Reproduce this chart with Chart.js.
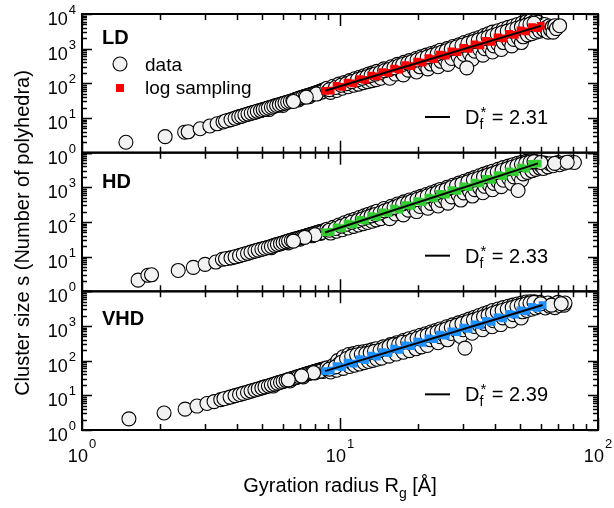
<!DOCTYPE html>
<html>
<head>
<meta charset="utf-8">
<script src="https://cdn.jsdelivr.net/npm/chart.js@4.4.1/dist/chart.umd.min.js"></script>
<style>
  body { margin: 0; background: #fff; }
  #wrap { width: 614px; height: 508px; }
</style>
</head>
<body>
<div id="wrap"><canvas id="fractal" width="614" height="508"></canvas></div>
<script>
// panel names and fitted fractal dimensions
const panelNames = ['LD', 'HD', 'VHD'];
const dfLabels = ['2.31', '2.33', '2.39'];
const samplingColors = ['#ff0000', '#33cc33', '#1e90ff'];

// tick label exponents
const xTickExps = [0, 1, 2];
const yTickExpsTop = [0, 1, 2, 3, 4];
const yTickExpsOther = [0, 1, 2, 3];

// [Rg, s]
const ldData = [
  [1.48,2.0],[2.10,2.9],[2.50,3.9],[2.58,4.0],[2.87,4.9],[3.13,5.9],[3.34,6.8],[3.52,7.7],[3.70,8.6],[3.85,9.5],
  [3.98,10.3],[4.10,11.0],[4.22,11.8],[4.35,12.6],[4.47,13.4],[4.60,14.3],[4.72,15.0],[4.85,16.0],[4.98,17.0],[5.10,17.8],
  [5.22,18.9],[5.35,20.0],[5.48,21.0],[5.60,22.5],[5.75,23.6],[5.90,25.0],[6.05,26.5],[6.20,28.0],[6.35,29.5],[6.50,31.0],
  [6.65,33.0],[6.80,35.0],[6.95,37.0],[7.10,39.0],[7.25,41.0],[7.40,43.0],[7.55,45.0],[7.70,47.0],[7.85,49.0],[8.00,52.0],
  [8.15,54.0],[8.30,57.0],[8.45,60.0],[8.60,63.0],[5.30,17.5],[6.00,23.0],[6.90,33.0],[7.60,41.0],[8.20,50.0],
  [3.6,8.2],[3.78,9.0],[3.92,9.8],[4.05,10.8],[4.16,11.3],[4.28,12.2],[4.4,13.0],[4.53,13.8],[4.66,14.6],[4.78,15.6],
  [4.92,16.4],[5.04,17.4],[5.16,18.2],[5.28,19.5],[5.42,20.4],[5.54,21.8],[5.68,23.0],[5.82,24.2],[5.97,25.6],[6.12,27.2],
  [6.27,28.6],[6.42,30.2],[6.57,32.0],[6.72,34.0],[6.87,36.0],[7.02,38.0],[7.17,40.0],[7.32,42.0],[7.47,44.0],[7.62,46.0],
  [7.77,48.0],[7.92,50.5],[8.07,53.0],[8.22,55.5],[8.37,58.5],[8.52,61.5],[8.68,65],[8.8,68],[8.5,56],[8.1,49],[7.4,40],[6.6,30],
  [8.9,72],[9.0,60],[9.2,55],[9.4,82],[9.55,68],[9.7,62],[9.9,95],[10.05,82],[10.2,72],
  [10.4,106],[10.55,90],[10.75,80],[10.9,120],[11.05,102],[11.3,88],[11.4,135],[11.6,112],[11.8,95],
  [11.9,150],[12.1,124],[12.3,105],[12.4,166],[12.6,136],[12.8,112],[12.9,185],[13.1,148],[13.3,120],
  [13.4,200],[13.6,160],[13.8,128],[13.9,222],[14.1,175],[14.4,140],
  [14.8,262],[15.0,204],[15.3,160],[15.6,140],[15.8,300],[16.1,235],[16.4,185],
  [16.7,352],[17.0,270],[17.3,210],[17.6,175],[17.7,402],[18.0,305],[18.4,240],
  [18.6,452],[19.0,347],[19.4,262],[19.8,212],[19.7,520],[20.0,390],[20.4,300],
  [20.6,580],[21.0,434],[21.4,330],[21.9,262],[21.6,650],[22.0,480],[22.5,360],
  [22.6,722],[23.0,532],[23.5,400],[24.0,302],[23.6,800],[24.1,590],[24.6,432],
  [24.5,900],[25.0,641],[25.6,470],[26.2,352],[26.0,1000],[26.5,730],[27.1,520],
  [27.4,1150],[28.0,825],[28.7,600],[29.4,420],[28.9,1300],[29.5,930],[30.2,680],
  [30.3,1500],[31.0,1040],[31.8,720],[32.6,500],[31.0,280],[31.8,1700],[32.5,1150],[33.3,850],
  [33.2,1900],[34.0,1275],[34.8,950],[35.8,650],[34.7,2100],[35.5,1400],[36.4,1000],
  [36.1,2400],[37.0,1540],[37.9,1100],[39.0,800],[37.6,2700],[38.5,1700],[39.5,1200],
  [39.0,3000],[40.0,1840],[41.0,1350],[42.2,950],[41.0,3300],[42.0,2050],[43.0,1500],
  [42.9,3700],[44.0,2270],[45.1,1700],[46.3,1200],[44.9,4100],[46.0,2500],[47.2,1850],
  [46.8,4500],[48.0,2760],[49.2,2000],[50.5,1500],[48.8,5000],[50.0,3000],[51.3,2200],
  [50.7,5500],[52.0,3300],[53.3,2500],[52.7,6000],[54.0,3600],[55.4,2700],
  [54.6,6300],[56.0,3900],[57.4,3000],[56.6,6000],[58.0,4200],[59.5,3200],
  [58.5,5800],[60.0,4500],[61.5,3500],[62.0,5000],[63.0,4000],[64.0,3000],
  [64.5,4500],[65.5,3500],[66.5,4300],[67.0,3000],[68.0,4600],[69.0,3800],[71.0,4600],
  [9.1,66],[9.6,76],[10.1,88],[10.6,98],[11.1,112],[11.7,128],[12.2,140],[12.7,155],[13.2,170],[13.7,185],
  [14.3,205],[14.9,232],[15.5,250],[16.2,285],[16.9,320],[17.5,350],[18.3,385],[19.0,420],[19.9,470],[20.8,520],
  [21.8,580],[22.8,650],[23.8,710],[24.8,790],[25.8,870],[27.0,990],[28.3,1120],[29.7,1250],[31.3,1420],[32.9,1600],
  [34.4,1770],[36.0,1950],[37.5,2150],[39.0,2350],[40.7,2600],[42.5,2900],[44.5,3200],[46.5,3500],[48.5,3900],[50.5,4300],
  [52.5,4700],[54.5,5100],[56.5,5400]
];
const ldSampling = [
  [8.75,61],[9.2,62],[9.7,84],[10.2,79],[10.7,105],[11.3,99],[11.9,133],[12.5,125],[13.2,168],[13.9,158],
  [14.6,211],[15.4,199],[16.2,266],[17.0,248],[17.9,333],[18.9,315],[19.9,422],[20.9,395],[22.0,529],[23.2,499],
  [24.4,668],[25.7,627],[27.0,837],[28.5,790],[30.0,1060],[31.5,989],[33.2,1331],[35.0,1252],[36.8,1675],[38.7,1568],
  [40.8,2111],[42.9,1975],[45.2,2655],[47.6,2493],[50.1,3345],[52.7,3132],[55.5,4204],[58.4,3943],[60.0,4550]
];
const ldFit = [[8.75,61],[60.0,4550]];

const hdData = [
  [1.65,2.1],[1.80,2.9],[1.86,3.0],[2.36,4.0],[2.70,4.9],[3.00,6.0],[3.30,7.0],[3.50,8.4],[3.70,9.0],[3.85,9.5],
  [4.00,10.3],[4.15,11.2],[4.30,12.0],[4.45,13.0],[4.60,14.0],[4.75,15.0],[4.90,16.0],[5.05,17.0],[5.20,18.0],[5.35,19.0],
  [5.50,20.5],[5.65,22.0],[5.80,23.0],[5.95,24.5],[6.10,26.0],[6.25,27.5],[6.40,29.0],[6.55,30.5],[6.70,32.0],[6.85,33.5],
  [7.00,35.0],[7.15,37.0],[7.30,38.5],[7.45,40.0],[7.60,42.0],[7.75,44.0],[7.90,46.0],[8.05,48.0],[8.20,50.0],[8.35,52.0],
  [8.50,54.0],[5.40,18.0],[6.30,25.0],[7.00,32.0],[7.80,40.0],[8.40,47.0],
  [3.6,8.7],[3.78,9.2],[3.92,9.9],[4.08,10.7],[4.22,11.6],[4.38,12.5],[4.52,13.5],[4.68,14.5],[4.82,15.5],[4.98,16.5],
  [5.12,17.5],[5.28,18.5],[5.42,19.7],[5.58,21.2],[5.72,22.5],[5.88,23.7],[6.02,25.2],[6.18,26.7],[6.32,28.2],[6.48,29.7],
  [6.62,31.2],[6.78,32.7],[6.92,34.2],[7.08,36.0],[7.22,37.7],[7.38,39.2],[7.52,41.0],[7.68,43.0],[7.82,45.0],[7.98,47.0],
  [8.12,49.0],[8.28,51.0],[8.42,53.0],[8.6,55],[8.75,57],[8.5,50],[8.0,43],[7.3,36],[6.6,28],
  [8.9,62],[9.0,54],[9.2,48],[9.4,70],[9.55,60],[9.7,54],[9.9,82],[10.05,69],[10.2,60],
  [10.4,95],[10.55,78],[10.75,67],[10.9,108],[11.05,87],[11.3,75],[11.4,120],[11.6,97],[11.8,82],
  [11.9,135],[12.1,107],[12.3,90],[12.4,150],[12.6,118],[12.8,97],[12.9,168],[13.1,130],[13.3,105],
  [13.4,185],[13.6,142],[13.8,115],[13.9,205],[14.1,155],[14.4,125],
  [14.8,245],[15.0,183],[15.3,145],[15.6,125],[15.8,285],[16.1,215],[16.4,170],
  [16.7,330],[17.0,248],[17.3,195],[17.6,160],[17.7,380],[18.0,285],[18.4,220],
  [18.6,430],[19.0,324],[19.4,245],[19.8,200],[19.7,490],[20.0,365],[20.4,280],
  [20.6,550],[21.0,412],[21.4,310],[21.9,250],[21.6,620],[22.0,460],[22.5,345],
  [22.6,700],[23.0,513],[23.5,380],[24.0,290],[23.6,780],[24.1,570],[24.6,420],
  [24.5,870],[25.0,628],[25.6,460],[26.2,350],[26.0,1000],[26.5,720],[27.1,530],
  [27.4,1150],[28.0,825],[28.7,610],[29.4,430],[28.9,1320],[29.5,940],[30.2,690],
  [30.3,1500],[31.0,1055],[31.8,780],[32.6,560],[31.8,1700],[32.5,1180],[33.3,860],
  [33.2,1900],[34.0,1315],[34.8,960],[35.8,700],[34.7,2150],[35.5,1460],[36.4,1070],
  [36.1,2400],[37.0,1615],[37.9,1180],[39.0,850],[37.6,2650],[38.5,1780],[39.5,1300],
  [39.0,2900],[40.0,1950],[41.0,1450],[42.2,1050],[41.0,3300],[42.0,2200],[43.0,1600],
  [42.9,3700],[44.0,2450],[45.1,1800],[46.3,1300],[44.9,4100],[46.0,2750],[47.2,2000],
  [46.8,4500],[48.0,3020],[49.2,2200],[50.5,1600],[49.0,810],[48.8,4900],[50.0,3300],[51.3,2450],
  [50.7,5300],[52.0,3665],[53.3,2700],[52.7,5600],[54.0,4000],[55.4,3000],
  [54.6,5800],[56.0,4380],[57.4,3300],[56.6,5600],[58.0,4700],[59.5,3600],
  [58.5,5400],[60.0,4300],[61.5,3500],[62.0,5000],[64.0,3900],[65.0,4800],[67.0,4200],
  [70.0,5200],[71.0,4500],[74.0,5000],[78.0,5400],[81.0,5200],
  [9.1,58],[9.6,65],[10.1,76],[10.6,86],[11.1,98],[11.7,110],[12.2,122],[12.7,135],[13.2,150],[13.7,165],
  [14.3,182],[14.9,210],[15.5,232],[16.2,265],[16.9,300],[17.5,330],[18.3,360],[19.0,400],[19.9,445],[20.8,495],
  [21.8,560],[22.8,630],[23.8,700],[24.8,780],[25.8,860],[27.0,990],[28.3,1120],[29.7,1260],[31.3,1440],[32.9,1620],
  [34.4,1800],[36.0,2000],[37.5,2250],[39.0,2450],[40.7,2750],[42.5,3050],[44.5,3400],[46.5,3800],[48.5,4200],[50.5,4600],
  [52.5,5000],[54.5,5300],[56.5,5500],[60.0,5200],[68.0,4900],[76.0,5300]
];
const hdSampling = [
  [8.75,50],[9.2,51.5],[9.7,70],[10.2,66],[10.7,89],[11.3,86],[11.9,115],[12.5,109],[13.2,148],[13.9,141],
  [14.6,189],[15.4,179],[16.2,243],[17.0,228],[17.9,309],[18.9,294],[19.9,398],[20.9,375],[22.0,507],[23.2,482],
  [24.4,651],[25.7,617],[27.0,832],[28.5,792],[30.0,1071],[31.5,1008],[33.2,1368],[35.0,1300],[36.8,1753],[38.7,1656],
  [40.8,2248],[42.9,2121],[45.2,2877],[47.6,2726],[50.1,3687],[52.7,3483],[55.5,4719],[58.4,4851]
];
const hdFit = [[8.75,50],[58.5,4900]];

const vhdData = [
  [1.52,2.1],[2.08,3.1],[2.51,4.0],[2.79,4.9],[3.05,5.8],[3.25,6.6],[3.45,7.5],[3.65,8.4],[3.85,9.4],[4.00,10.2],
  [4.15,11.0],[4.30,11.9],[4.45,12.8],[4.60,13.8],[4.75,14.8],[4.90,15.8],[5.05,17.0],[5.20,18.0],[5.35,19.2],[5.50,20.5],
  [5.65,21.8],[5.80,23.2],[5.95,24.6],[6.10,26.0],[6.25,27.5],[6.40,29.0],[6.55,30.6],[6.70,32.2],[6.85,34.0],[7.00,35.8],
  [7.15,37.6],[7.30,39.5],[7.45,41.5],[7.60,43.5],[7.75,45.5],[7.90,47.5],[8.05,49.5],[8.20,51.5],[8.35,53.5],[8.50,55.5],
  [5.50,18.5],[6.40,26.0],[7.20,34.0],[8.00,44.0],[8.60,49.0],
  [3.55,8.0],[3.75,8.9],[3.92,9.8],[4.08,10.6],[4.22,11.4],[4.38,12.3],[4.52,13.3],[4.68,14.3],[4.82,15.3],[4.98,16.4],
  [5.12,17.5],[5.28,18.6],[5.42,19.8],[5.58,21.1],[5.72,22.5],[5.88,23.9],[6.02,25.3],[6.18,26.7],[6.32,28.2],[6.48,29.8],
  [6.62,31.4],[6.78,33.1],[6.92,34.9],[7.08,36.7],[7.22,38.5],[7.38,40.5],[7.52,42.5],[7.68,44.5],[7.82,46.5],[7.98,48.5],
  [8.12,50.5],[8.28,52.5],[8.42,54.5],[8.6,57],[8.75,59],[8.4,50],[7.9,45],[7.1,36],[6.3,28],
  [8.9,62],[9.0,53],[9.2,47],[9.4,72],[9.55,61],[9.7,53],
  [9.8,100],[9.95,82],[10.1,68],[10.3,60],[10.3,130],[10.5,100],[10.7,78],[10.9,68],
  [10.8,150],[11.0,115],[11.2,84],[11.4,74],[11.3,160],[11.5,125],[11.7,93],[11.9,80],
  [11.8,175],[12.0,135],[12.2,102],[12.4,88],[12.3,180],[12.5,140],[12.7,112],[12.9,95],
  [12.8,190],[13.0,150],[13.2,122],[13.4,102],[13.3,205],[13.5,160],[13.7,133],[13.9,110],
  [13.8,220],[14.0,175],[14.2,145],[14.5,118],[14.7,250],[15.0,200],[15.2,169],[15.5,135],
  [15.7,290],[16.0,230],[16.2,196],[16.5,155],[16.6,330],[17.0,270],[17.2,224],[17.6,175],
  [17.6,380],[18.0,310],[18.2,255],[18.6,195],[18.5,430],[19.0,350],[19.2,288],[19.7,220],
  [19.5,480],[20.0,390],[20.2,322],[20.7,250],[20.5,540],[21.0,440],[21.2,361],[21.8,275],
  [21.5,600],[22.0,490],[22.4,400],[22.5,670],[23.0,544],[23.4,444],[24.0,330],
  [23.5,740],[24.0,600],[24.5,490],[24.4,820],[25.0,660],[25.4,537],[26.1,400],
  [25.9,950],[26.5,760],[27.0,610],[27.3,1080],[28.0,870],[28.5,693],[29.3,500],
  [28.8,1230],[29.5,980],[30.0,780],[30.5,230],[30.3,1400],[31.0,1100],[31.6,872],[32.5,620],
  [31.7,1580],[32.5,1220],[33.2,970],[33.2,1780],[34.0,1360],[34.6,1074],[35.7,780],
  [34.6,2000],[35.5,1500],[36.2,1180],[36.1,2250],[37.0,1650],[37.7,1300],[38.9,950],
  [37.6,2500],[38.5,1800],[39.3,1420],[39.0,2800],[40.0,2000],[40.8,1552],[42.0,1100],
  [41.0,3100],[42.0,2250],[42.8,1720],[42.9,3400],[44.0,2500],[44.9,1924],[46.2,1400],
  [44.9,3700],[46.0,2750],[47.0,2130],[46.8,4000],[48.0,3000],[49.0,2342],[50.4,1700],
  [48.8,4300],[50.0,3300],[51.0,2570],[50.7,4600],[52.0,3600],[53.0,2809],
  [52.7,4900],[54.0,3800],[55.2,3050],[54.6,5000],[56.0,4100],[57.2,3318],
  [56.6,5000],[58.0,4300],[59.3,3600],[59.5,4800],[61.0,4030],[62.5,3300],
  [64.0,4600],[65.0,3700],[67.0,4200],[68.0,3400],[70.0,4800],[71.0,3900],[74.0,4000],[74.5,4600],
  [9.1,57],[9.6,66],[10.1,90],[10.6,115],[11.1,135],[11.6,145],[12.1,155],[12.6,160],[13.1,170],[13.6,185],
  [14.3,200],[14.9,225],[15.5,255],[16.2,290],[16.9,300],[17.5,340],[18.3,345],[19.0,390],[19.9,435],[20.8,490],
  [21.8,545],[22.8,605],[23.8,670],[24.8,740],[25.8,820],[27.0,920],[28.3,1040],[29.7,1170],[31.3,1320],[32.9,1480],
  [34.4,1650],[36.0,1850],[37.5,2050],[39.0,2300],[40.7,2550],[42.5,2800],[44.5,3100],[46.5,3400],[48.5,3700],[50.5,4000],
  [52.5,4300],[54.5,4600],[56.5,4800],[60.0,4400],[66.0,4000],[72.0,4400]
];
const vhdSampling = [
  [8.75,50],[9.2,51.5],[9.7,69],[10.2,65],[10.7,87],[11.3,82],[11.9,110],[12.5,103],[13.2,140],[13.9,131],
  [14.6,175],[15.4,165],[16.2,221],[17.0,206],[17.9,277],[18.9,262],[19.9,352],[20.9,329],[22.0,442],[23.2,417],
  [24.4,559],[25.7,525],[27.0,702],[28.5,663],[30.0,891],[31.5,832],[33.2,1120],[35.0,1055],[36.8,1414],[38.7,1325],
  [40.8,1785],[42.9,1672],[45.2,2250],[47.6,2115],[50.1,2838],[52.7,2662],[55.5,3577],[58.4,3356],[61.0,4030]
];
const vhdFit = [[8.75,50],[61.0,4030]];

const FONT = '"Liberation Sans", Arial, Helvetica, sans-serif';
const toPts = arr => arr.map(([x, y]) => ({ x: x, y: y }));

const panels = [
  { id: 'yLD', data: ldData, sampling: ldSampling, fit: ldFit },
  { id: 'yHD', data: hdData, sampling: hdSampling, fit: hdFit },
  { id: 'yVHD', data: vhdData, sampling: vhdSampling, fit: vhdFit }
];

const datasets = [];
panels.forEach((p, i) => {
  datasets.push({
    label: 'fit ' + panelNames[i], data: toPts(p.fit), yAxisID: p.id, order: 0,
    showLine: true, borderColor: '#000', borderWidth: 2, pointRadius: 0
  });
  datasets.push({
    label: 'log sampling ' + panelNames[i], data: toPts(p.sampling), yAxisID: p.id, order: 1,
    pointStyle: 'rect', pointRadius: 5.5, backgroundColor: samplingColors[i], borderWidth: 0
  });
  datasets.push({
    label: 'data ' + panelNames[i], data: toPts(p.data), yAxisID: p.id, order: 2,
    pointRadius: 7, backgroundColor: '#f2f2f2', borderColor: '#000', borderWidth: 1.1
  });
});

function yScaleOpts() {
  return {
    type: 'logarithmic', min: 1, max: 10000, position: 'left',
    stack: 'panels', stackWeight: 1,
    ticks: { display: false }, grid: { display: false }, border: { display: false },
    afterFit: s => { s.width = 82; }
  };
}

function powLabel(ctx, exp, x, y, align, raise) {
  ctx.font = '18px ' + FONT;
  const w10 = ctx.measureText('10').width;
  ctx.font = '13px ' + FONT;
  const we = ctx.measureText(String(exp)).width;
  const total = w10 + 1 + we;
  const x0 = align === 'right' ? x - total : x - total / 2;
  ctx.font = '18px ' + FONT;
  ctx.fillText('10', x0, y);
  ctx.font = '13px ' + FONT;
  ctx.fillText(String(exp), x0 + w10 + 1, y - raise);
}

const panelLabelDy = [30, 35, 34];

const decorPlugin = {
  id: 'decor',
  afterDraw(chart) {
    const ctx = chart.ctx;
    const xs = chart.scales.x;
    ctx.save();
    ctx.fillStyle = '#000';
    ctx.strokeStyle = '#000';
    ctx.textAlign = 'left';
    ctx.textBaseline = 'alphabetic';

    panels.forEach((p, i) => {
      const ys = chart.scales[p.id];
      // ticks, pointing inwards
      ctx.lineWidth = 1.5;
      ctx.beginPath();
      for (let d = 0; d <= 2; d++) {
        for (let k = 1; k <= 9; k++) {
          const v = k * Math.pow(10, d);
          if (v > 100) break;
          const px = Math.round(xs.getPixelForValue(v)) + 0.5;
          const len = k === 1 ? 12 : 6;
          ctx.moveTo(px, ys.top); ctx.lineTo(px, ys.top + len);
          ctx.moveTo(px, ys.bottom); ctx.lineTo(px, ys.bottom - len);
        }
      }
      for (let d = 0; d <= 4; d++) {
        for (let k = 1; k <= 9; k++) {
          const v = k * Math.pow(10, d);
          if (v > 10000) break;
          const py = Math.round(ys.getPixelForValue(v)) + 0.5;
          const len = k === 1 ? 10 : 5;
          ctx.moveTo(xs.left, py); ctx.lineTo(xs.left + len, py);
          ctx.moveTo(xs.right, py); ctx.lineTo(xs.right - len, py);
        }
      }
      ctx.stroke();
      // frame
      ctx.lineWidth = 2;
      ctx.strokeRect(xs.left, ys.top, xs.right - xs.left, ys.bottom - ys.top);

      // y tick labels
      const exps = i === 0 ? yTickExpsTop : yTickExpsOther;
      exps.forEach(e => {
        const py = ys.getPixelForValue(Math.pow(10, e));
        powLabel(ctx, e, xs.left - 6, py + 11, 'right', 11);
      });

      // panel name
      ctx.font = 'bold 20px ' + FONT;
      ctx.fillText(panelNames[i], xs.left + 20, ys.top + panelLabelDy[i]);

      // fit legend: line + D_f*
      const ly = ys.top + 103;
      ctx.lineWidth = 2;
      ctx.beginPath();
      ctx.moveTo(425, ly); ctx.lineTo(450, ly);
      ctx.stroke();
      let tx = 465;
      const tb = ys.top + 110;
      ctx.font = '20px ' + FONT;
      ctx.fillText('D', tx, tb);
      tx += ctx.measureText('D').width;
      ctx.font = '14px ' + FONT;
      ctx.fillText('f', tx, tb + 5);
      const wf = ctx.measureText('f').width;
      ctx.font = '15px ' + FONT;
      ctx.fillText('*', tx + 1, tb - 7);
      const ws = ctx.measureText('*').width;
      tx += Math.max(wf, ws + 1);
      ctx.font = '20px ' + FONT;
      ctx.fillText(' = ' + dfLabels[i], tx, tb);
    });

    // legend in top panel
    const y1 = chart.scales.yLD;
    ctx.lineWidth = 1.1;
    ctx.fillStyle = '#f2f2f2';
    ctx.beginPath();
    ctx.arc(120, y1.top + 50, 7, 0, Math.PI * 2);
    ctx.fill();
    ctx.stroke();
    ctx.fillStyle = samplingColors[0];
    ctx.fillRect(116, y1.top + 70, 8, 8);
    ctx.fillStyle = '#000';
    ctx.font = '19px ' + FONT;
    ctx.fillText('data', 145, y1.top + 57);
    ctx.fillText('log sampling', 145, y1.top + 80);

    // x tick labels
    const yb = chart.scales.yVHD.bottom;
    xTickExps.forEach(e => {
      powLabel(ctx, e, xs.getPixelForValue(Math.pow(10, e)), yb + 32, 'center', 14);
    });

    // x title
    ctx.font = '20px ' + FONT;
    const t1 = 'Gyration radius R';
    const t3 = ' [Å]';
    const w1 = ctx.measureText(t1).width;
    const w3 = ctx.measureText(t3).width;
    ctx.font = '14px ' + FONT;
    const w2 = ctx.measureText('g').width;
    const cx = (xs.left + xs.right) / 2;
    let xx = cx - (w1 + w2 + w3) / 2;
    const by = 492;
    ctx.font = '20px ' + FONT;
    ctx.fillText(t1, xx, by);
    xx += w1;
    ctx.font = '14px ' + FONT;
    ctx.fillText('g', xx, by + 6);
    xx += w2;
    ctx.font = '20px ' + FONT;
    ctx.fillText(t3, xx, by);

    // y title
    ctx.save();
    ctx.translate(29, 233);
    ctx.rotate(-Math.PI / 2);
    ctx.textAlign = 'center';
    ctx.font = '20px ' + FONT;
    ctx.fillText('Cluster size s (Number of polyhedra)', 0, 0);
    ctx.restore();

    ctx.restore();
  }
};

new Chart(document.getElementById('fractal'), {
  type: 'scatter',
  data: { datasets: datasets },
  options: {
    responsive: false,
    animation: false,
    devicePixelRatio: 1,
    layout: { padding: { left: 0, top: 14, right: 16, bottom: 0 } },
    plugins: { legend: { display: false }, tooltip: { enabled: false } },
    scales: {
      x: {
        type: 'logarithmic', min: 1, max: 100, position: 'bottom',
        ticks: { display: false }, grid: { display: false }, border: { display: false },
        afterFit: s => { s.height = 78; }
      },
      yVHD: yScaleOpts(),
      yHD: yScaleOpts(),
      yLD: yScaleOpts()
    }
  },
  plugins: [decorPlugin]
});
</script>
</body>
</html>
